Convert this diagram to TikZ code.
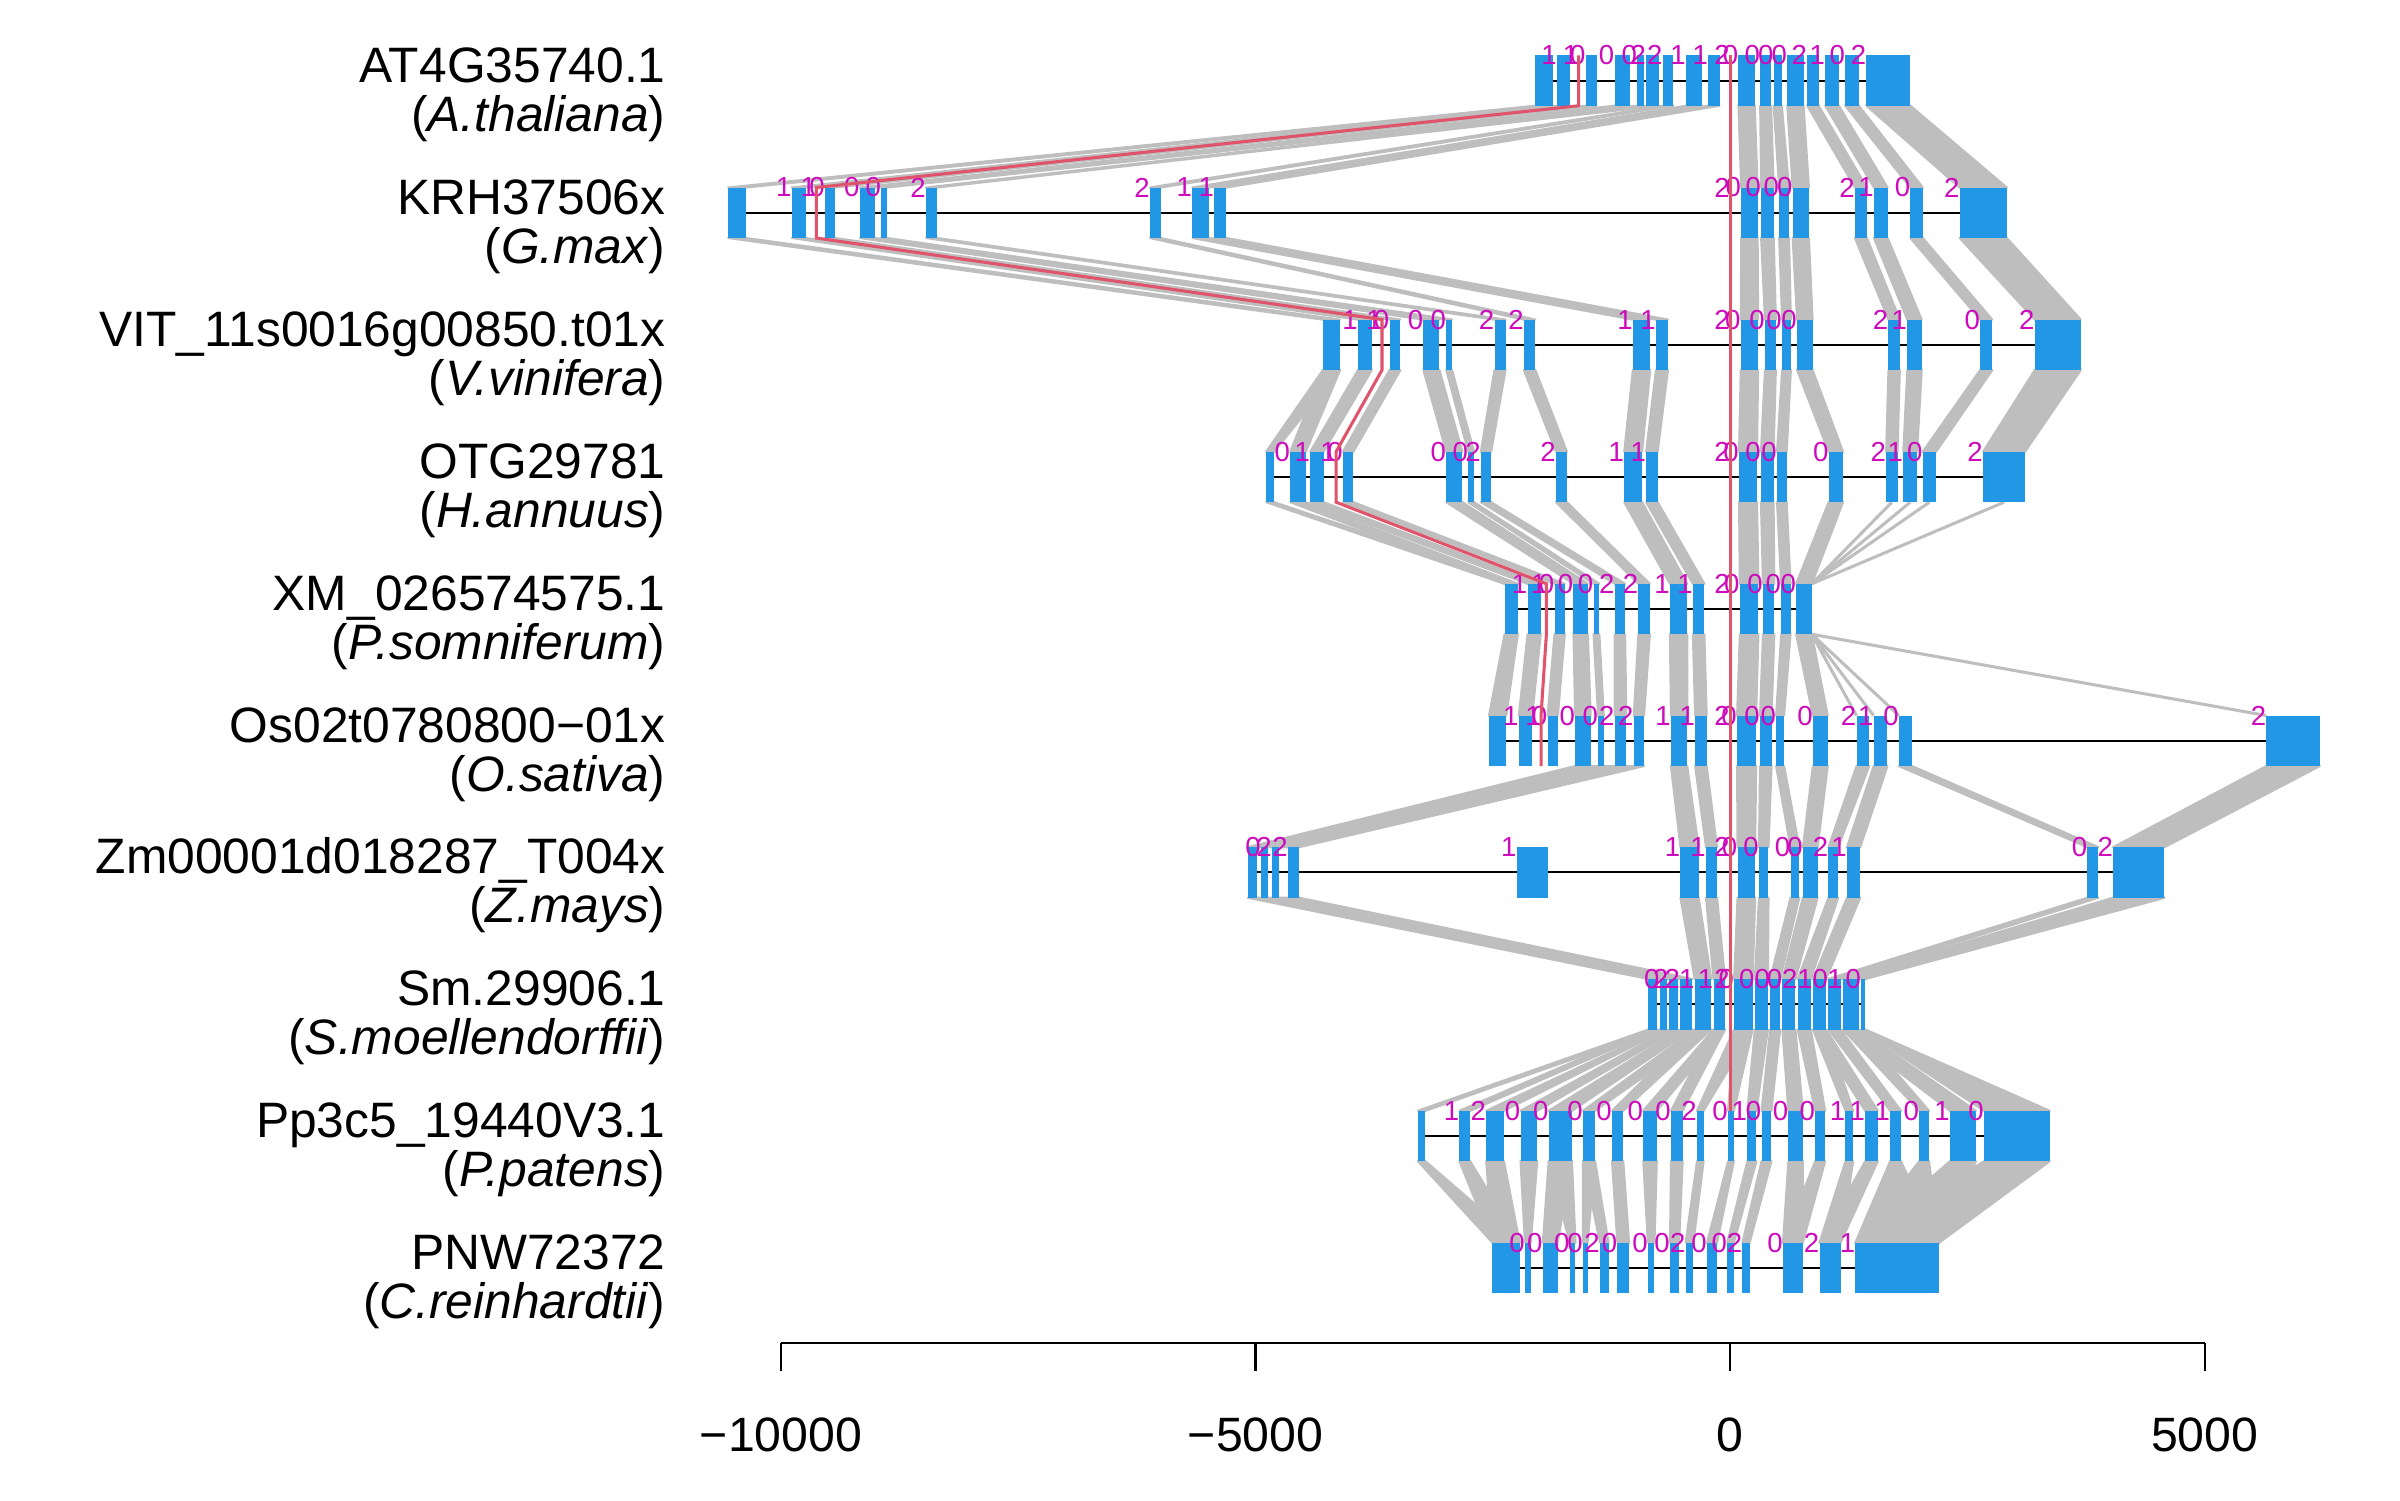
\documentclass[tikz,border=0pt]{standalone}
\usepackage{fontspec}
\setmainfont{Liberation Sans}
\usetikzlibrary{backgrounds}
\definecolor{exonblue}{HTML}{2297E6}
\definecolor{phasemag}{HTML}{CD0BBC}
\definecolor{intronred}{HTML}{DF536B}
\definecolor{bandgray}{HTML}{BEBEBE}

\begin{document}
\begin{tikzpicture}[x=1pt,y=-1pt,
    exon/.style={fill=exonblue,inner sep=0pt,outer sep=0pt,minimum height=33pt},
    phase/.style={text=phasemag,font=\fontsize{18}{18}\selectfont,inner sep=0pt,anchor=east},
    band/.style={fill=bandgray,draw=bandgray,line width=1.4pt,line join=round},
    thinband/.style={draw=bandgray,line width=2pt},
    geneline/.style={draw=black,line width=1.3pt},
    redpath/.style={draw=intronred,line width=2pt},
    genename/.style={font=\fontsize{32.5}{32.5}\selectfont,anchor=base east,inner sep=0pt},
    axisline/.style={draw=black,line width=1.5pt},
    ticklabel/.style={font=\fontsize{31.5}{31.5}\selectfont,inner sep=0pt}]

  \useasboundingbox (0,0) rectangle (1568,980);

  % gene names
  \foreach \gid/\sp/\yr [count=\k] in {AT4G35740.1/A.thaliana/52.6,KRH37506x/G.max/139.0,
      VIT\_11s0016g00850.t01x/V.vinifera/225.3,OTG29781/H.annuus/311.6,
      XM\_026574575.1/P.somniferum/397.9,Os02t0780800−01x/O.sativa/484.0,
      Zm00001d018287\_T004x/Z.mays/570.0,Sm.29906.1/S.moellendorffii/656.1,
      Pp3c5\_19440V3.1/P.patens/742.2,PNW72372/C.reinhardtii/828.3}{
    \node[genename] (id\k) at (435,\yr+1) {\gid};
    \node[genename] (sp\k) at (435,\yr+33) {(\textit{\sp})};
  }

  % exons, row by row
  \foreach \xa/\xb/\ph [count=\i] in {1003.0/1014.4/{},1017.2/1025.4/1,1036.0/1043.1/0,1054.8/1065.0/0,
      1069.6/1073.8/0,1075.6/1083.8/2,1086.3/1093.3/2,1101.5/1112.1/1,1116.0/1123.4/1,1135.8/1146.4/0,
      1150.0/1157.1/0,1158.8/1164.1/0,1167.7/1178.3/0,1180.8/1188.2/2,1192.5/1201.4/1,1205.6/1214.4/0,
      1219.4/1248.1/2}{
    \node[exon,minimum width={(\xb-\xa)*1pt}] (r1e\i) at ({(\xa+\xb)/2},52.6) {};
    \node[phase] (r1p\i) at (\xa,36.1) {\ph};
  }
  \foreach \xa/\xb/\ph [count=\i] in {475.7/487.3/{},517.3/526.4/1,539.0/545.7/0,561.7/571.7/0,
      575.7/579.6/0,605.0/612.3/2,751.3/758.3/2,779.0/790.0/1,793.3/801.3/1,1137.6/1148.3/0,
      1150.6/1158.8/0,1162.4/1168.8/0,1171.2/1181.8/0,1211.9/1219.7/2,1224.3/1233.2/1,1248.1/1256.2/0,
      1280.3/1311.1/2}{
    \node[exon,minimum width={(\xb-\xa)*1pt}] (r2e\i) at ({(\xa+\xb)/2},139.0) {};
    \node[phase] (r2p\i) at (\xa,122.5) {\ph};
  }
  \foreach \xa/\xb/\ph [count=\i] in {864.3/875.5/{},887.2/896.2/1,907.8/914.9/0,930.0/940.4/0,
      944.9/948.7/0,976.4/983.6/2,995.6/1003.1/2,1066.8/1078.1/1,1081.9/1089.7/1,1137.3/1148.6/0,
      1153.1/1160.2/0,1164.3/1170.0/0,1174.1/1184.2/0,1233.8/1241.2/2,1246.1/1255.5/1,1293.7/1301.6/0,
      1329.4/1359.4/2}{
    \node[exon,minimum width={(\xb-\xa)*1pt}] (r3e\i) at ({(\xa+\xb)/2},225.3) {};
    \node[phase] (r3p\i) at (\xa,208.8) {\ph};
  }
  \foreach \xa/\xb/\ph [count=\i] in {827.2/832.4/{},843.0/853.1/0,856.1/864.7/1,877.4/884.2/0,
      944.9/955.4/0,959.2/963.0/0,967.5/974.2/2,1016.6/1023.7/2,1061.2/1072.8/1,1075.5/1083.0/1,
      1136.2/1147.9/0,1150.5/1158.7/0,1161.0/1167.3/0,1194.7/1204.1/0,1232.3/1239.7/2,1243.5/1252.5/1,
      1256.2/1264.9/0,1295.6/1323.0/2}{
    \node[exon,minimum width={(\xb-\xa)*1pt}] (r4e\i) at ({(\xa+\xb)/2},311.6) {};
    \node[phase] (r4p\i) at (\xa,295.1) {\ph};
  }
  \foreach \xa/\xb/\ph [count=\i] in {983.0/991.6/{},998.0/1006.6/1,1015.6/1022.3/0,1028.0/1037.4/0,
      1041.1/1044.9/0,1055.0/1061.7/2,1070.4/1077.9/2,1091.0/1102.3/1,1106.0/1113.5/1,1136.7/1148.8/0,
      1151.8/1159.2/0,1163.7/1169.8/0,1173.5/1183.7/0}{
    \node[exon,minimum width={(\xb-\xa)*1pt}] (r5e\i) at ({(\xa+\xb)/2},397.9) {};
    \node[phase] (r5p\i) at (\xa,381.4) {\ph};
  }
  \foreach \xa/\xb/\ph [count=\i] in {972.8/984.1/{},992.3/1001.0/1,1011.1/1017.8/0,1029.1/1039.2/0,
      1044.1/1047.8/0,1055.0/1062.5/2,1067.4/1074.1/2,1091.7/1102.3/1,1107.5/1115.0/1,1134.9/1147.3/0,
      1149.9/1157.4/0,1160.4/1165.6/0,1184.4/1194.1/0,1212.9/1221.2/2,1224.1/1233.1/1,1240.6/1249.2/0,
      1480.7/1515.6/2}{
    \node[exon,minimum width={(\xb-\xa)*1pt}] (r6e\i) at ({(\xa+\xb)/2},484.0) {};
    \node[phase] (r6p\i) at (\xa,467.5) {\ph};
  }
  \foreach \xa/\xb/\ph [count=\i] in {815.2/821.4/{},823.8/828.6/0,831.0/835.8/2,841.5/848.7/2,
      991.0/1011.6/1,1097.9/1109.8/1,1114.6/1121.8/1,1135.2/1146.7/0,1149.2/1155.4/0,1169.8/1175.5/0,
      1177.9/1187.5/0,1194.6/1200.9/2,1206.7/1215.3/1,1363.8/1371.0/0,1380.6/1414.1/2}{
    \node[exon,minimum width={(\xb-\xa)*1pt}] (r7e\i) at ({(\xa+\xb)/2},570.0) {};
    \node[phase] (r7p\i) at (\xa,553.5) {\ph};
  }
  \foreach \xa/\xb/\ph [count=\i] in {1077.0/1082.8/{},1084.3/1088.8/0,1090.3/1096.2/2,1097.7/1105.7/2,
      1107.2/1118.0/1,1119.5/1127.0/1,1133.0/1145.0/0,1146.5/1155.0/0,1156.5/1163.0/0,1164.5/1173.0/0,
      1174.5/1183.0/2,1184.5/1193.0/1,1194.5/1202.5/0,1204.0/1214.5/1,1216.0/1218.7/0}{
    \node[exon,minimum width={(\xb-\xa)*1pt}] (r8e\i) at ({(\xa+\xb)/2},656.1) {};
    \node[phase] (r8p\i) at (\xa,639.6) {\ph};
  }
  \foreach \xa/\xb/\ph [count=\i] in {926.4/931.3/{},953.5/960.5/1,971.0/982.6/2,993.4/1004.3/0,
      1011.8/1027.0/0,1034.2/1042.1/0,1053.2/1060.5/0,1073.6/1082.4/0,1091.7/1099.3/0,1108.7/1113.0/2,
      1129.0/1132.8/0,1141.6/1147.5/1,1150.9/1157.3/0,1168.4/1177.8/0,1185.9/1192.4/0,1205.7/1210.7/1,
      1218.6/1226.8/1,1234.9/1241.9/1,1253.9/1260.3/0,1274.0/1290.9/1,1296.2/1339.1/0}{
    \node[exon,minimum width={(\xb-\xa)*1pt}] (r9e\i) at ({(\xa+\xb)/2},742.2) {};
    \node[phase] (r9p\i) at (\xa,725.7) {\ph};
  }
  \foreach \xa/\xb/\ph [count=\i] in {975.0/992.8/{},996.3/1000.1/0,1008.0/1017.6/0,1025.5/1029.3/0,
      1034.2/1037.2/0,1045.3/1050.9/2,1056.7/1064.3/0,1076.6/1080.9/0,1091.1/1097.0/0,1101.3/1106.3/2,
      1115.3/1121.8/0,1128.5/1132.8/0,1138.4/1143.1/2,1164.9/1177.8/0,1188.8/1202.5/2,1212.2/1267.0/1}{
    \node[exon,minimum width={(\xb-\xa)*1pt}] (r10e\i) at ({(\xa+\xb)/2},828.3) {};
    \node[phase] (r10p\i) at (\xa,811.8) {\ph};
  }

  % aligned segments between neighbouring genes
  \begin{scope}[on background layer]
    \foreach \p/\q in {1/1,2/2,3/3,4/4,5/5,6/6,7/7,8/8,9/9,10/10,11/11,12/12,13/13,14/14,15/15,16/16,17/17}{
      \fill[band] (r1e\p.south west) -- (r1e\p.south east) -- (r2e\q.north east) -- (r2e\q.north west) -- cycle;
      \fill[band] (r2e\p.south west) -- (r2e\p.south east) -- (r3e\q.north east) -- (r3e\q.north west) -- cycle;
    }
    \foreach \p/\q in {1/1,1/2,2/3,3/4,4/5,5/6,6/7,7/8,8/9,9/10,10/11,11/12,12/13,13/14,14/15,15/16,16/17,17/18}
      \fill[band] (r3e\p.south west) -- (r3e\p.south east) -- (r4e\q.north east) -- (r4e\q.north west) -- cycle;
    \foreach \p/\q in {1/1,2/1,3/2,4/3,5/4,6/5,7/6,8/7,9/8,10/9,11/10,12/11,13/12,14/13}
      \fill[band] (r4e\p.south west) -- (r4e\p.south east) -- (r5e\q.north east) -- (r5e\q.north west) -- cycle;
    \foreach \p in {15,...,18}
      \draw[thinband] (r4e\p.south) -- (r5e13.north east);
    \foreach \p/\q in {1/1,2/2,3/3,4/4,5/5,6/6,7/7,8/8,9/9,10/10,11/11,12/12,13/13}
      \fill[band] (r5e\p.south west) -- (r5e\p.south east) -- (r6e\q.north east) -- (r6e\q.north west) -- cycle;
    \foreach \q in {14,...,17}
      \draw[thinband] (r5e13.south east) -- (r6e\q.north west);
    \fill[band] (r6e4.south west) -- (r6e7.south east) -- (r7e4.north east) -- (r7e1.north west) -- cycle;
    \foreach \p/\q in {8/6,9/7,10/8,11/9,12/10,13/11,14/12,15/13,16/14,17/15}
      \fill[band] (r6e\p.south west) -- (r6e\p.south east) -- (r7e\q.north east) -- (r7e\q.north west) -- cycle;
    \fill[band] (r7e1.south west) -- (r7e4.south east) -- (r8e4.north east) -- (r8e1.north west) -- cycle;
    \foreach \p/\q in {6/5,7/6,8/7,9/8,10/9,11/10,12/11,13/12,14/13,15/14,15/15}
      \fill[band] (r7e\p.south west) -- (r7e\p.south east) -- (r8e\q.north east) -- (r8e\q.north west) -- cycle;
    \foreach \p/\q in {1/1,1/2,2/3,3/4,4/5,5/6,5/7,6/8,6/9,7/10,7/11,8/12,9/13,10/14,11/15,12/16,12/17,
        13/18,14/19,14/20,15/21}
      \fill[band] (r8e\p.south west) -- (r8e\p.south east) -- (r9e\q.north east) -- (r9e\q.north west) -- cycle;
    \foreach \p/\q in {1/1,2/1,3/1,4/2,5/3,5/4,6/5,6/6,7/7,8/8,9/9,10/10,11/11,12/12,13/13,14/14,15/14,
        16/15,17/15,18/16,19/16,20/16,21/16}
      \fill[band] (r9e\p.south west) -- (r9e\p.south east) -- (r10e\q.north east) -- (r10e\q.north west) -- cycle;
    \foreach \rw/\n in {1/17,2/17,3/17,4/18,5/13,6/17,7/15,8/15,9/21,10/16}
      \draw[geneline] (r\rw e1.center) -- (r\rw e\n.center);
  \end{scope}

  % the two marked introns
  \foreach \xr/\yr [count=\k] in {1031.3/52.6,533.3/139.0,902.9/225.3,872.9/311.6,1010.3/397.9,1006.8/484.0}{
    \coordinate (rb\k t) at (\xr,\yr-16.5);
    \coordinate (rb\k b) at (\xr,\yr+16.5);
    \node[phase] (redone\k) at (rb\k t) {1};
  }
  \foreach \yr [count=\k] in {36.1,122.5,208.8,295.1,381.4,467.5,553.5,639.6}
    \node[phase] (redtwo\k) at (1130.3,\yr) {2};
  \coordinate (ratop) at (1130.3,36.1);
  \coordinate (rabot) at (1130.3,725.7);
  \draw[redpath] (ratop) -- (rabot);
  \draw[redpath] (rb1t) -- (rb1b) -- (rb2t) -- (rb2b) -- (rb3t) -- (rb3b) -- (rb4t) -- (rb4b)
    -- (rb5t) -- (rb5b) -- (rb6t) -- (rb6b);

  % axis
  \draw[axisline] (510.3,877.5) -- (1440.4,877.5);
  \foreach \v/\t [count=\k] in {-10000/−10000,-5000/−5000,0/0,5000/5000}{
    \draw[axisline] ({1130.4+\v*0.06201},877.5) -- ({1130.4+\v*0.06201},896);
    \node[ticklabel] (tick\k) at ({1130.4+\v*0.06201},937.6) {\t};
  }
\end{tikzpicture}
\end{document}
